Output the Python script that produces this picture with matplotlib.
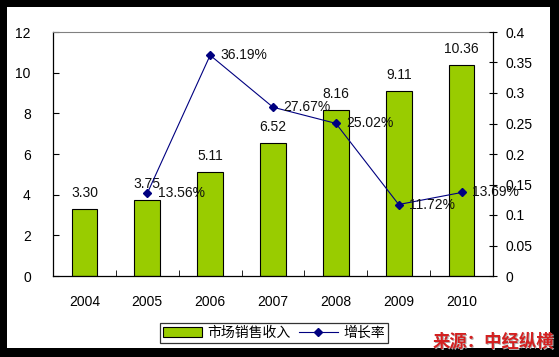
import matplotlib
matplotlib.use("Agg")
import matplotlib.pyplot as plt
import matplotlib.patches as mpatches
from matplotlib.lines import Line2D
import numpy as np

plt.rcParams['font.family'] = ['Liberation Sans', 'Noto Sans CJK SC', 'DejaVu Sans']

years = ["2004", "2005", "2006", "2007", "2008", "2009", "2010"]
revenue = [3.30, 3.75, 5.11, 6.52, 8.16, 9.11, 10.36]
growth_years = ["2005", "2006", "2007", "2008", "2009", "2010"]
growth = [0.1356, 0.3619, 0.2767, 0.2502, 0.1172, 0.1369]

W, H = 559, 357
fig = plt.figure(figsize=(W / 100, H / 100), dpi=100)
fig.patch.set_facecolor("black")
# white chart area inside the black frame
fig.patches.append(mpatches.Rectangle((7 / W, 9 / H), 543 / W, 341 / H,
                                      transform=fig.transFigure, facecolor="white",
                                      edgecolor="none", zorder=-10))

ax = fig.add_axes([53 / W, (H - 276) / H, 440 / W, 244 / H])
ax.set_facecolor("white")
x = np.arange(len(years))
ax.bar(x, revenue, width=0.41, color="#99CC00", edgecolor="black", linewidth=0.8, zorder=2)
for xi, v in zip(x, revenue):
    ax.text(xi, v + 0.45, f"{v:.2f}", ha="center", va="bottom", fontsize=10, color="#111111")

ax.set_xlim(-0.5, len(years) - 0.5)
ax.set_ylim(0, 12)
ax.set_yticks(range(0, 13, 2))
ax.set_xticks(x)
ax.set_xticklabels(years)
ax.set_xticks(np.arange(0.5, len(years) - 0.5, 1), minor=True)
ax.tick_params(axis="x", which="major", length=0, pad=14, labelsize=10)
ax.tick_params(axis="x", which="minor", direction="in", length=4, color="black")
ax.tick_params(axis="y", direction="in", length=4, pad=16, labelsize=10)
ax.spines["top"].set_color("#808080")
ax.spines["right"].set_visible(False)
ax.spines["left"].set_linewidth(0.9)
ax.spines["bottom"].set_linewidth(0.9)

ax2 = ax.twinx()
gx = [years.index(y) for y in growth_years]
ax2.plot(gx, growth, color="#000080", linewidth=0.8, marker="D", markersize=4.5, zorder=3)
for xi, g in zip(gx, growth):
    ax2.text(xi + 0.17, g, f"{g * 100:.2f}%", ha="left", va="center", fontsize=10, color="#111111")
ax2.set_ylim(0, 0.4)
ax2.set_yticks(np.arange(0, 0.41, 0.05))
ax2.set_yticklabels(["0", "0.05", "0.1", "0.15", "0.2", "0.25", "0.3", "0.35", "0.4"])
ax2.tick_params(axis="y", direction="inout", length=6, pad=6, labelsize=10)
ax2.spines["right"].set_linewidth(0.9)
ax2.spines["top"].set_visible(False)
ax2.spines["left"].set_visible(False)
ax2.spines["bottom"].set_visible(False)

handles = [
    mpatches.Patch(facecolor="#99CC00", edgecolor="black", linewidth=0.8, label="市场销售收入"),
    Line2D([0], [0], color="#000080", linewidth=0.8, marker="D", markersize=4.5, label="增长率"),
]
leg = fig.legend(handles=handles, loc="center", bbox_to_anchor=(274 / W, (H - 333) / H),
                 ncol=2, frameon=True, fancybox=False, edgecolor="black",
                 prop={"family": ["Noto Sans CJK SC"], "size": 10},
                 handlelength=2.8, handletextpad=0.4, columnspacing=0.6,
                 borderpad=0.2)
leg.get_frame().set_linewidth(0.9)

# source note with a faint shadow
src = "来源：中经纵横"
fig.text(555 / W, (H - 343) / H, src, ha="right", va="center",
         fontsize=12.5, fontweight="bold", color="#B0B0B0", family=["Noto Sans CJK SC"])
fig.text(554 / W, (H - 342) / H, src, ha="right", va="center",
         fontsize=12.5, fontweight="bold", color="#D42020", family=["Noto Sans CJK SC"])

fig.savefig("out.png", dpi=100, facecolor=fig.get_facecolor())
